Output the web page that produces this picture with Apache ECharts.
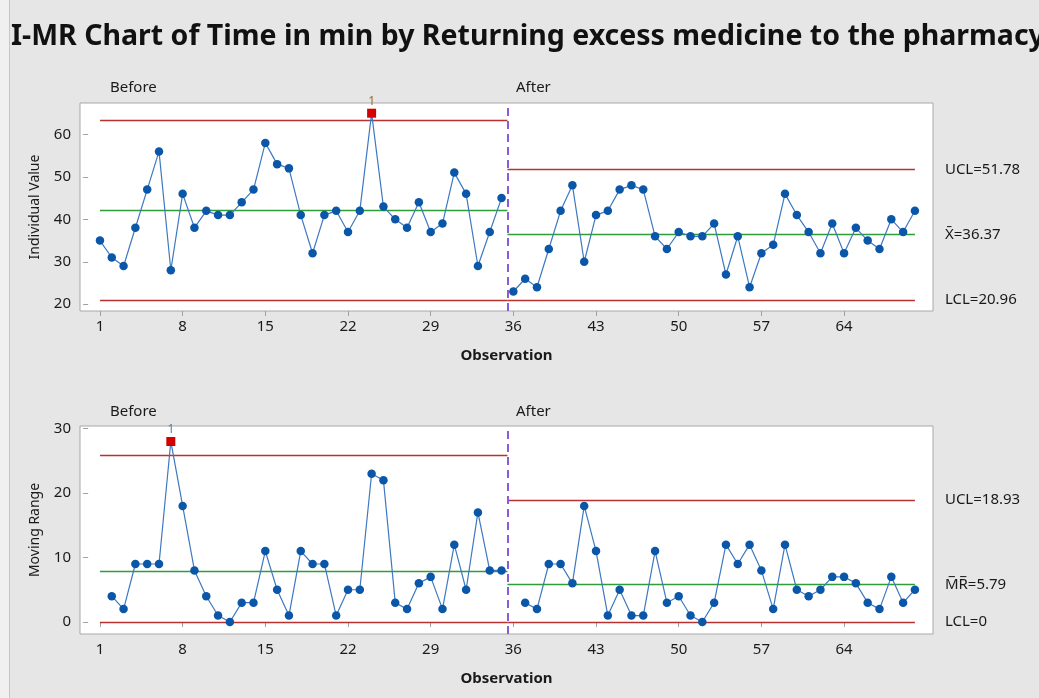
<!doctype html>
<html>
    <head>
        <meta charset="utf-8">
        <title>I-MR Chart</title>
        <style>
            html, body { margin: 0; padding: 0; background: #e6e6e6; }
            #main { width: 1039px; height: 698px; }
        </style>
    </head>
    <body>
        <div id="main"></div>
        <script src="https://cdn.jsdelivr.net/npm/echarts@6/dist/echarts.min.js"></script>
        <script>
            // Time in min, one value per observation, split by stage
            var beforeValues = [35, 31, 29, 38, 47, 56, 28, 46, 38, 42, 41, 41, 44, 47, 58, 53, 52, 41, 32, 41,
                                42, 37, 42, 65, 43, 40, 38, 44, 37, 39, 51, 46, 29, 37, 45];
            var afterValues = [23, 26, 24, 33, 42, 48, 30, 41, 42, 47, 48, 47, 36, 33, 37, 36, 36, 39, 27, 36,
                               24, 32, 34, 46, 41, 37, 32, 39, 32, 38, 35, 33, 40, 37, 42];
            // moving ranges (first point of each stage has none)
            var beforeMR = [null, 4, 2, 9, 9, 9, 28, 18, 8, 4, 1, 0, 3, 3, 11, 5, 1, 11, 9, 9,
                            1, 5, 5, 23, 22, 3, 2, 6, 7, 2, 12, 5, 17, 8, 8];
            var afterMR = [null, 3, 2, 9, 9, 6, 18, 11, 1, 5, 1, 1, 11, 3, 4, 1, 0, 3, 12, 9,
                           12, 8, 2, 12, 5, 4, 5, 7, 7, 6, 3, 2, 7, 3, 5];

            var stageNames = ['Before', 'After'];
            var stageStart = [1, 36];
            var stageEnd = [35, 70];

            // control limits per stage [before, after]
            var iUCL = [63.27, 51.78];
            var iCL = [42.14, 36.37];
            var iLCL = [21.02, 20.96];
            var mrUCL = [25.94, 18.93];
            var mrCL = [7.94, 5.79];
            var mrLCL = [0, 0];

            // observations failing test 1
            var flaggedI = [24];
            var flaggedMR = [7];

            var xTicks = [1, 8, 15, 22, 29, 36, 43, 50, 57, 64];
            var iTicks = [20, 30, 40, 50, 60];
            var mrTicks = [0, 10, 20, 30];

            var FONT = 'Noto Sans';
            var RED = '#b83232';
            var GREEN = '#2f9e3a';
            var BLUE = '#0a56a8';

            var chart = echarts.init(document.getElementById('main'), null, {
                devicePixelRatio: 1
            });

            function points(values, start, flagged, flagColor) {
                var out = [];
                values.forEach(function (v, i) {
                    if (v === null) return;
                    var x = start + i;
                    if (flagged.indexOf(x) >= 0) {
                        out.push({
                            value: [x, v],
                            symbol: 'rect',
                            symbolSize: 9,
                            itemStyle: { color: '#d40000' },
                            label: {
                                show: true, formatter: '1', position: 'top', distance: 1,
                                color: flagColor, fontSize: 12, fontFamily: FONT
                            }
                        });
                    } else {
                        out.push([x, v]);
                    }
                });
                return out;
            }

            function limitLine(x0, x1, y, color, text) {
                return [{
                    coord: [x0, y],
                    lineStyle: { color: color, width: 1.4, type: 'solid' },
                    label: text ? {
                        show: true, position: 'end', distance: 30, formatter: text,
                        color: '#1a1a1a', fontSize: 15, fontFamily: FONT
                    } : { show: false }
                }, { coord: [x1, y] }];
            }

            function stageSeries(gi, values, s, ucl, cl, lcl, flagged, flagColor, texts) {
                var x0 = s === 0 ? stageStart[0] : stageEnd[0] + 0.5;
                var x1 = s === 0 ? stageEnd[0] + 0.5 : stageEnd[1];
                var lines = [
                    limitLine(x0, x1, ucl[s], RED, texts && texts[0]),
                    limitLine(x0, x1, cl[s], GREEN, texts && texts[1]),
                    limitLine(x0, x1, lcl[s], RED, texts && texts[2])
                ];
                if (s === 1) {
                    lines.push({
                        xAxis: stageEnd[0] + 0.5,
                        lineStyle: { color: '#8a5cd8', width: 2, type: [8, 5] },
                        label: { show: false }
                    });
                }
                return {
                    type: 'line',
                    xAxisIndex: gi,
                    yAxisIndex: gi,
                    data: points(values, stageStart[s], flagged, flagColor),
                    symbol: 'circle',
                    symbolSize: 8.5,
                    itemStyle: { color: BLUE },
                    lineStyle: { color: '#3d78c0', width: 1.2 },
                    animation: false,
                    z: 3,
                    markLine: {
                        silent: true,
                        symbol: 'none',
                        animation: false,
                        z: 2,
                        data: lines
                    }
                };
            }

            function xAxis(gi) {
                return {
                    type: 'value',
                    gridIndex: gi,
                    min: -0.69,
                    max: 71.53,
                    name: 'Observation',
                    nameLocation: 'middle',
                    nameGap: 37,
                    nameTextStyle: { fontSize: 15, fontWeight: 'bold', color: '#1a1a1a', fontFamily: FONT },
                    axisLine: { show: false },
                    axisTick: { show: true, length: 5, lineStyle: { color: '#a0a0a0' }, customValues: xTicks },
                    axisLabel: { fontSize: 15, color: '#1a1a1a', fontFamily: FONT, margin: 8, customValues: xTicks },
                    splitLine: { show: false }
                };
            }

            function yAxis(gi, name, min, max, ticks) {
                return {
                    type: 'value',
                    gridIndex: gi,
                    min: min,
                    max: max,
                    name: name,
                    nameLocation: 'middle',
                    nameGap: 38,
                    nameTextStyle: { fontSize: 14, color: '#1a1a1a', fontFamily: FONT },
                    axisLine: { show: false },
                    axisTick: { show: true, length: 5, lineStyle: { color: '#a0a0a0' }, customValues: ticks },
                    axisLabel: { fontSize: 15, color: '#1a1a1a', fontFamily: FONT, margin: 9, customValues: ticks },
                    splitLine: { show: false }
                };
            }

            var stageLabels = [];
            [0, 1].forEach(function (s) {
                [88, 412].forEach(function (y) {
                    stageLabels.push({
                        type: 'text',
                        left: s === 0 ? 110 : 516,
                        top: y - 8,
                        style: { text: stageNames[s], font: '15px "Noto Sans"', fill: '#1a1a1a' }
                    });
                });
            });

            chart.setOption({
                backgroundColor: '#e6e6e6',
                title: {
                    text: 'I-MR Chart of Time in min by Returning excess medicine to the pharmacy',
                    left: 11,
                    top: 22,
                    padding: 0,
                    textStyle: { fontSize: 28.5, fontWeight: 'bold', color: '#111', fontFamily: FONT }
                },
                graphic: [
                    { type: 'rect', left: 0, top: 0, shape: { width: 9, height: 698 }, style: { fill: '#f0f0f0' } },
                    { type: 'rect', left: 9, top: 0, shape: { width: 1, height: 698 }, style: { fill: '#c6c6c6' } }
                ].concat(stageLabels),
                grid: [
                    { left: 80, right: 106, top: 103, height: 208, show: true, backgroundColor: '#fff', borderColor: '#a8a8a8', borderWidth: 1 },
                    { left: 80, right: 106, top: 426, height: 208, show: true, backgroundColor: '#fff', borderColor: '#a8a8a8', borderWidth: 1 }
                ],
                xAxis: [xAxis(0), xAxis(1)],
                yAxis: [
                    yAxis(0, 'Individual Value', 18.4, 67.4, iTicks),
                    yAxis(1, 'Moving Range', -1.86, 30.4, mrTicks)
                ],
                series: [
                    stageSeries(0, beforeValues, 0, iUCL, iCL, iLCL, flaggedI, '#9a6b2c'),
                    stageSeries(0, afterValues, 1, iUCL, iCL, iLCL, flaggedI, '#9a6b2c',
                        ['UCL=' + iUCL[1], 'X\u0304=' + iCL[1], 'LCL=' + iLCL[1]]),
                    stageSeries(1, beforeMR, 0, mrUCL, mrCL, mrLCL, flaggedMR, '#5b7c99'),
                    stageSeries(1, afterMR, 1, mrUCL, mrCL, mrLCL, flaggedMR, '#5b7c99',
                        ['UCL=' + mrUCL[1], 'M\u0305R\u0305=' + mrCL[1], 'LCL=' + mrLCL[1]])
                ]
            });

            window.onresize = chart.resize;
        </script>
    </body>
</html>
